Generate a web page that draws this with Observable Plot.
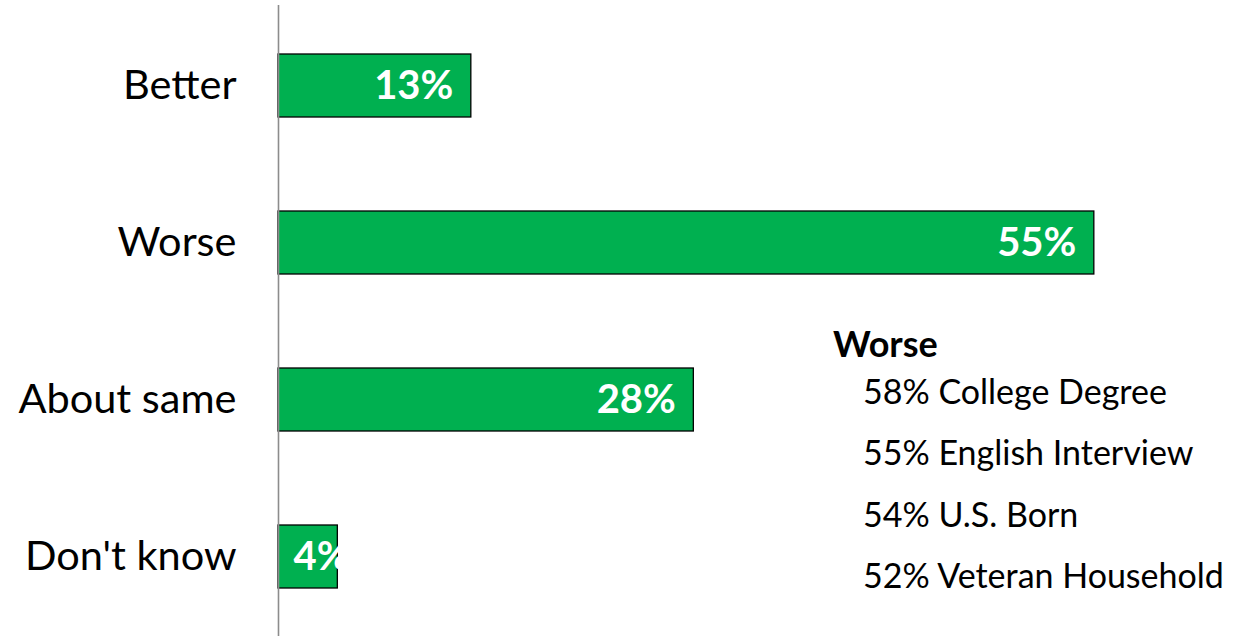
<!DOCTYPE html>
<html>
<head>
<meta charset="utf-8">
<script src="https://cdn.jsdelivr.net/npm/d3@7"></script>
<script src="https://cdn.jsdelivr.net/npm/@observablehq/plot@0.6"></script>
<style>
  html, body { margin: 0; padding: 0; background: #fff; }
  #wrap { position: relative; width: 1234px; height: 636px; font-family: Lato, sans-serif; }
  #note { position: absolute; left: 833px; top: 327px; color: #000; }
  #note .head { font-weight: bold; font-size: 36px; line-height: 33px; }
  #note .item { font-size: 34px; line-height: 61.3px; padding-left: 30px; }
</style>
</head>
<body>
<div id="wrap"></div>
<script>
const categories = ["Better", "Worse", "About same", "Don't know"];
const values = [13, 55, 28, 4];
const noteTitle = "Worse";
const noteItems = ["58% College Degree", "55% English Interview", "54% U.S. Born", "52% Veteran Household"];

const data = categories.map((c, i) => ({category: c, value: values[i]}));
const fits = d => d.value >= 8;

const chart = Plot.plot({
  width: 1234,
  height: 636,
  marginLeft: 278,
  marginRight: 66,
  marginTop: 5,
  marginBottom: 0,
  style: {fontFamily: "Lato, sans-serif", background: "#fff"},
  x: {domain: [0, 60], axis: null},
  y: {domain: categories, paddingInner: 0.6, paddingOuter: 0.3, label: null},
  marks: [
    Plot.barX(data, {x: "value", y: "category", fill: "#00b050", stroke: "#000", strokeWidth: 1.3}),
    Plot.ruleX([0], {stroke: "#8c8c8c", strokeWidth: 1.6}),
    Plot.axisY({tickSize: 0, tickPadding: 42, fontSize: 41.5, fill: "#000", label: null}),
    Plot.text(data.filter(fits), {x: "value", y: "category", text: d => d.value + "%", textAnchor: "end", dx: -18, fill: "#fff", fontWeight: "bold", fontSize: 40, letterSpacing: 1.5}),
    Plot.text(data.filter(d => !fits(d)), {x: 0, y: "category", text: d => d.value + "%", textAnchor: "start", dx: 15, fill: "#fff", fontWeight: "bold", fontSize: 40, letterSpacing: 1.5})
  ]
});

const wrap = document.getElementById("wrap");
wrap.appendChild(chart);
const note = document.createElement("div");
note.id = "note";
const h = document.createElement("div");
h.className = "head";
h.textContent = noteTitle;
note.appendChild(h);
for (const t of noteItems) {
  const d = document.createElement("div");
  d.className = "item";
  d.textContent = t;
  note.appendChild(d);
}
wrap.appendChild(note);
</script>
</body>
</html>
